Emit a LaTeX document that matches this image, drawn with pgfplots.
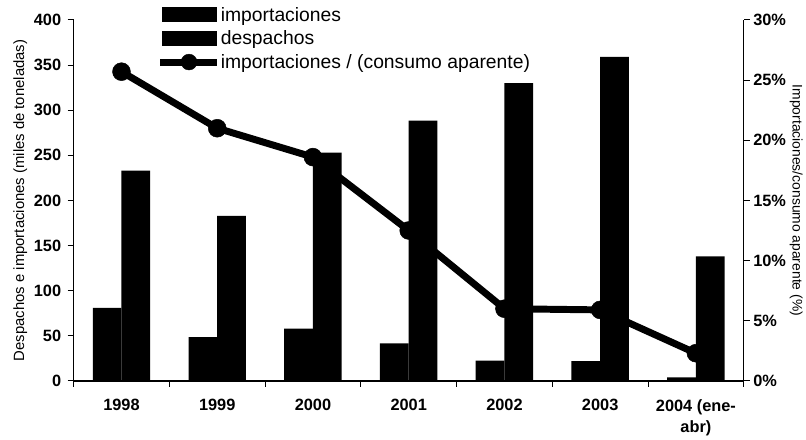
\documentclass[border=0pt]{standalone}
\usepackage{fontspec}
\setmainfont{Liberation Sans}
\usepackage{pgfplots}
\pgfplotsset{compat=1.18}
\begin{document}
\begin{tikzpicture}
\pgfplotsset{
  every axis/.append style={
    scale only axis, width=674bp, height=363bp,
    xmin=-0.5, xmax=6.5,
    tick align=outside,
    /pgf/number format/assume math mode=true,
    tick label style={font=\bfseries\fontsize{16.5}{22}\selectfont},
    axis line style={line width=1.3bp},
    every tick/.style={line width=1bp, black},
    major tick length=6bp,
  }
}
\begin{axis}[
  axis x line*=bottom, axis y line*=left,
  ymin=0, ymax=400, ytick={0,50,...,400},
  xtick={-0.5,0.5,...,6.5},
  x tick label as interval,
  xticklabels={1998,1999,2000,2001,2002,2003,{2004 (ene-\\abr)}},
  xticklabel style={align=center, yshift=-9bp},
  yticklabel style={xshift=-3bp},
  ylabel={Despachos e importaciones (miles de toneladas)},
  ylabel style={font=\fontsize{15}{17}\selectfont},
  legend style={draw=none, fill=none, at={(0.124,1.036)}, anchor=north west,
    inner sep=0pt, outer sep=0pt, row sep=7bp, column sep=0pt,
    font=\fontsize{19.5}{21}\selectfont, nodes={inner sep=0.5bp}},
  legend cell align=left,
]
\addplot[ybar, bar width=0.3, bar shift=-0.15, fill=black, draw=none,
  legend image code/.code={\fill[black] (-26bp,-7bp) rectangle (29bp,8bp);}]
  coordinates {(0,81) (1,48.5) (2,58) (3,41.5) (4,22.5) (5,22) (6,4)};
\addlegendentry{importaciones}
\addplot[ybar, bar width=0.3, bar shift=0.15, fill=black, draw=none,
  legend image code/.code={\fill[black] (-26bp,-7bp) rectangle (29bp,8bp);}]
  coordinates {(0,233) (1,183) (2,253) (3,288.5) (4,330) (5,359) (6,138)};
\addlegendentry{despachos}
\addlegendimage{legend image code/.code={\draw[line width=7bp] (-28bp,0bp) -- (29bp,0bp); \fill (1bp,0bp) circle (8bp);}}
\addlegendentry{importaciones / (consumo aparente)}
\end{axis}
\begin{axis}[
  axis y line*=right, axis x line=none,
  ymin=0, ymax=30, ytick={0,5,...,30},
  yticklabel={\pgfmathprintnumber{\tick}\%},
  ylabel={Importaciones/consumo aparente (\%)},
  ylabel shift=-3bp,
  ylabel style={font=\fontsize{14}{16}\selectfont, rotate=180},
]
\addplot[black, line width=7bp, mark=*, mark size=9bp, mark options={solid, line width=0.5bp}]
  coordinates {(0,25.7) (1,21.0) (2,18.6) (3,12.5) (4,6.0) (5,5.9) (6,2.3)};
\end{axis}
\path ([xshift=-10bp]current bounding box.south west) ([yshift=7bp]current bounding box.north east);
\end{tikzpicture}
\end{document}
